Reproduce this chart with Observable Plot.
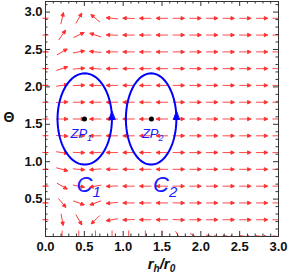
<!DOCTYPE html>
<html><head><meta charset="utf-8">
<script src="https://cdn.jsdelivr.net/npm/d3@7"></script>
<script src="https://cdn.jsdelivr.net/npm/@observablehq/plot@0.6"></script>
<style>body{margin:0;background:#fff}</style>
</head><body><div id="chart"></div>
<script>
// grid columns (r_h/r_0) and rows (Θ)
const rhCols = [0, 0.214, 0.429, 0.643, 0.857, 1.071, 1.286, 1.5, 1.714, 1.929, 2.143, 2.357, 2.571, 2.786, 3.0];
const thetaRows = [0, 0.224, 0.449, 0.673, 0.898, 1.122, 1.346, 1.571, 1.795, 2.020, 2.244, 2.468, 2.693, 2.917];
// arrow direction on screen, degrees (0 = right, 90 = up), per row, for rhCols[1..14]
const angleRows = [
  [-90, -90, -90, -90, -90, -90, -90, -60, -30, -15, -12, -10, -8, -6],
  [-80, -60, 225, 190, 182, 180, 180, -3, 0, 0, 0, 0, 0, 0],
  [-50, -20, 200, 185, 180, 180, 180, -1, 0, 0, 0, 0, 0, 0],
  [-30, -10, 190, 182, 180, 180, 180, 0, 0, 0, 0, 0, 0, 0],
  [-15, -5, 185, 180, 180, 180, 180, 0, 0, 0, 0, 0, 0, 0],
  [-8, -2, 182, 180, 180, 180, 180, 0, 0, 0, 0, 0, 0, 0],
  [-3, 0, 180, 180, 180, 180, 180, 0, 0, 0, 0, 0, 0, 0],
  [0, 0, 180, 180, 180, 180, 180, 0, 0, 0, 0, 0, 0, 0],
  [3, 0, 180, 180, 180, 180, 180, 0, 0, 0, 0, 0, 0, 0],
  [8, 2, 178, 180, 180, 180, 180, 0, 0, 0, 0, 0, 0, 0],
  [18, 5, 175, 180, 180, 180, 180, 0, 0, 0, 0, 0, 0, 0],
  [30, 10, 175, 180, 180, 180, 180, 0, 0, 0, 0, 0, 0, 0],
  [55, 25, 162, 178, 180, 180, 180, 0, 0, 0, 0, 0, 0, 0],
  [78, 60, 140, 174, 178, 180, 180, 0, 0, 0, 0, 0, 0, 0]
];
// zero points
const zpR = [0.502, 1.364];
const zpTheta = [1.571, 1.571];
const zpLabels = ["ZP\u2081", "ZP\u2082"];
const zpLabelR = [0.46, 1.38];
const zpLabelTheta = [1.37, 1.37];
// contours C1, C2 (ellipses)
const contourCx = [0.505, 1.36];
const contourCy = [1.571, 1.571];
const contourAx = [0.35, 0.325];
const contourAy = [0.61, 0.61];
const contourLabels = ["C\u2081", "C\u2082"];
const contourLabelR = [0.555, 1.54];
const contourLabelTheta = [0.69, 0.69];
// ticks
const xMajor = [0, 0.5, 1, 1.5, 2, 2.5, 3];
const yMajor = [0.5, 1, 1.5, 2, 2.5, 3];

const W = 291, H = 275, mL = 45, mR = 13, mT = 1, mB = 39;
const innerW = W - mL - mR, innerH = H - mT - mB;

const field = [];
angleRows.forEach((row, j) => row.forEach((a, k) => field.push({r: rhCols[k + 1], th: thetaRows[j], a})));
const edge = thetaRows.slice(1).map(th => ({r: rhCols[0], th}));

const ellipsePts = [];
contourCx.forEach((cx, c) => {
  for (let s = 0; s <= 120; s++) {
    const t = s / 120 * 2 * Math.PI;
    ellipsePts.push({id: c, x: cx + contourAx[c] * Math.cos(t), y: contourCy[c] + contourAy[c] * Math.sin(t)});
  }
});
const heads = contourCx.map((cx, c) => ({x: cx + contourAx[c], y: contourCy[c] - 0.02}));
const zp = zpR.map((r, i) => ({r, th: zpTheta[i], label: zpLabels[i], lr: zpLabelR[i], lt: zpLabelTheta[i]}));
const cl = contourLabels.map((l, i) => ({l, r: contourLabelR[i], th: contourLabelTheta[i]}));

const xMinor = d3.range(0, 31).map(d => d / 10).filter(d => Math.abs(d * 2 - Math.round(d * 2)) > 1e-6);
const yMinor = d3.range(0, 32).map(d => d / 10).filter(d => Math.abs(d * 2 - Math.round(d * 2)) > 1e-6);
const yMaj0 = [0, ...yMajor];

const arrowShape = {
  draw(ctx, l) {
    const hl = 3.6, hw = 1.7;
    ctx.moveTo(0, 0); ctx.lineTo(0, -l + hl);
    ctx.moveTo(0, -l); ctx.lineTo(-hw, -l + hl); ctx.lineTo(hw, -l + hl); ctx.closePath();
  }
};
const lineShape = { draw(ctx, l) { ctx.moveTo(0, 0); ctx.lineTo(0, -l); } };
const headShape = {
  draw(ctx, l) {
    ctx.moveTo(0, -l); ctx.lineTo(-3, -l + 8); ctx.lineTo(3, -l + 8); ctx.closePath();
  }
};

const red = "#ff2b2b";
const tickColor = "#333";
const plot = Plot.plot({
  width: W, height: H,
  marginLeft: mL, marginRight: mR, marginTop: mT, marginBottom: mB,
  x: {domain: [0, 3], label: null},
  y: {domain: [0, Math.PI], label: null},
  style: {fontFamily: "'Liberation Sans', Arial, sans-serif", background: "white", overflow: "visible"},
  marks: [
    Plot.vector(field, {x: "r", y: "th", rotate: d => 90 - d.a, length: 12, anchor: "middle", shape: arrowShape,
      stroke: red, fill: red, strokeWidth: 0.85, strokeLinecap: "butt", clip: true}),
    Plot.vector(edge, {x: "r", y: "th", rotate: 90, length: 5, anchor: "middle", shape: lineShape,
      stroke: red, strokeWidth: 1.1}),
    Plot.line(ellipsePts, {x: "x", y: "y", z: "id", stroke: "#0000ff", strokeWidth: 2}),
    Plot.vector(heads, {x: "x", y: "y", rotate: 0, length: 9, anchor: "start", shape: headShape,
      stroke: "#0000ff", fill: "#0000ff", strokeWidth: 1}),
    Plot.dot(zp, {x: "r", y: "th", r: 2.5, fill: "black"}),
    Plot.text(zp, {x: "lr", y: "lt", text: "label", fill: "#1a1aff", fontSize: 13, fontStyle: "italic"}),
    Plot.text(cl, {x: "r", y: "th", text: "l", fill: "#1a1aff", fontSize: 22, fontStyle: "italic"}),
    Plot.frame({stroke: tickColor}),
    Plot.ruleX(xMajor, {x: d => d, insetTop: innerH - 5, stroke: tickColor}),
    Plot.ruleX(xMinor, {x: d => d, insetTop: innerH - 2.5, stroke: tickColor}),
    Plot.ruleX(xMajor, {x: d => d, insetBottom: innerH - 5, stroke: tickColor}),
    Plot.ruleX(xMinor, {x: d => d, insetBottom: innerH - 2.5, stroke: tickColor}),
    Plot.ruleY(yMaj0, {y: d => d, insetRight: innerW - 5, stroke: tickColor}),
    Plot.ruleY(yMinor, {y: d => d, insetRight: innerW - 2.5, stroke: tickColor}),
    Plot.ruleY(yMaj0, {y: d => d, insetLeft: innerW - 5, stroke: tickColor}),
    Plot.ruleY(yMinor, {y: d => d, insetLeft: innerW - 2.5, stroke: tickColor}),
    Plot.axisX({ticks: xMajor, tickSize: 0, tickPadding: 5, tickFormat: d => d.toFixed(1), fontWeight: "bold", fontSize: 13, fill: "#111", label: null}),
    Plot.axisY({ticks: yMajor, tickSize: 0, tickPadding: 3, tickFormat: d => d.toFixed(1), fontWeight: "bold", fontSize: 13, fill: "#111", label: null})
  ]
});
document.getElementById("chart").appendChild(plot);
const svg = d3.select(plot);
// render unicode subscripts as real subscript tspans (larger, like the reference)
const subMap = {"\u2080": "0", "\u2081": "1", "\u2082": "2"};
svg.selectAll("text").each(function () {
  const el = d3.select(this);
  if (el.selectAll("tspan").size()) return;
  const s = this.textContent;
  const m = s.match(/^(.*)([\u2080-\u2082])$/);
  if (!m) return;
  const fs = parseFloat(window.getComputedStyle(this).fontSize) || 13;
  el.text(null);
  el.append("tspan").text(m[1]);
  el.append("tspan").attr("font-size", fs * 0.68).attr("dy", fs * 0.22).text(subMap[m[2]]);
});
const t = svg.append("text").attr("x", mL + innerW / 2).attr("y", 269).attr("text-anchor", "middle")
  .attr("font-family", "'Liberation Sans', Arial, sans-serif").attr("font-weight", "bold")
  .attr("font-style", "italic").attr("font-size", 15).attr("fill", "#111");
t.append("tspan").text("r");
t.append("tspan").attr("font-size", 10).attr("dy", 3).text("h");
t.append("tspan").attr("dy", -3).text("/r");
t.append("tspan").attr("font-size", 10).attr("dy", 3).text("0");
svg.append("text").attr("x", 9).attr("y", 122).attr("text-anchor", "middle")
  .attr("font-family", "'Liberation Sans', Arial, sans-serif").attr("font-weight", "bold")
  .attr("font-size", 14).attr("fill", "#111").text("\u0398");
</script>
</body></html>
